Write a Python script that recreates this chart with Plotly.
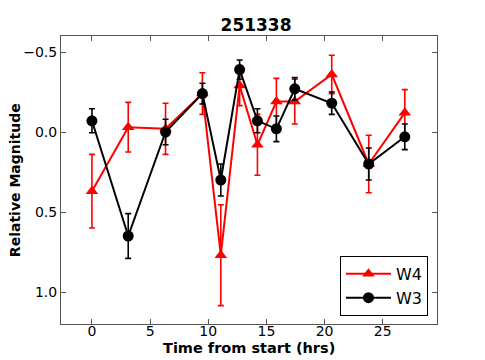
import plotly.graph_objects as go

# temps depuis le début (heures)
temps = [0.0, 3.12, 6.33, 9.5, 11.08, 12.7, 14.23, 15.86, 17.44, 20.62, 23.8, 26.9]

mag_w4 = [0.37, -0.03, -0.02, -0.24, 0.77, -0.29, 0.08, -0.19, -0.19, -0.36, 0.20, -0.12]
err_w4 = [0.23, 0.155, 0.16, 0.13, 0.315, 0.125, 0.19, 0.145, 0.14, 0.12, 0.18, 0.145]

mag_w3 = [-0.07, 0.65, 0.00, -0.24, 0.30, -0.39, -0.07, -0.02, -0.27, -0.18, 0.20, 0.03]
err_w3 = [0.075, 0.14, 0.08, 0.065, 0.10, 0.06, 0.075, 0.08, 0.07, 0.07, 0.10, 0.08]

police = "DejaVu Sans"

fig = go.Figure()
fig.add_trace(go.Scatter(
    x=temps, y=mag_w4, name="W4", mode="lines+markers",
    line=dict(color="#ff0000", width=2),
    marker=dict(symbol="triangle-up", size=11, color="#ff0000"),
    error_y=dict(type="data", array=err_w4, color="#ff0000", thickness=1.6, width=3),
))
fig.add_trace(go.Scatter(
    x=temps, y=mag_w3, name="W3", mode="lines+markers",
    line=dict(color="black", width=2),
    marker=dict(symbol="circle", size=11, color="black"),
    error_y=dict(type="data", array=err_w3, color="black", thickness=1.6, width=3),
))

axe = dict(showgrid=False, zeroline=False, showline=True, linecolor="#555555", linewidth=1,
           mirror="ticks", ticks="inside", ticklen=5, tickcolor="#555555", automargin=False,
           tickfont=dict(family=police, size=14, color="black"))

# la page html a une marge de 8px autour du graphique
fig.update_layout(
    width=477, height=352,
    margin=dict(l=53, r=48, t=28, b=36),
    paper_bgcolor="white", plot_bgcolor="white",
    font=dict(family=police, color="black"),
    title=dict(text="<b>251338</b>", x=0.52, xanchor="center", y=0.952, yanchor="middle",
               font=dict(size=17, family=police)),
    xaxis=dict(axe, range=[-2.66, 29.67], tickvals=[0, 5, 10, 15, 20, 25], ticklabelstandoff=-6),
    yaxis=dict(axe, range=[1.2, -0.6], tickvals=[-0.5, 0.0, 0.5, 1.0],
               ticktext=["\u22120.5", "0.0", "0.5", "1.0"]),
    legend=dict(x=0.976, y=0.028, xanchor="right", yanchor="bottom",
                bordercolor="black", borderwidth=1, bgcolor="white",
                font=dict(size=16, family=police), itemwidth=45),
    showlegend=True,
    annotations=[
        dict(text="<b>Time from start (hrs)</b>", xref="paper", yref="paper",
             x=0.5, y=-0.083, xanchor="center", yanchor="middle", showarrow=False,
             font=dict(size=14.5, family=police)),
        dict(text="<b>Relative Magnitude</b>", xref="paper", yref="paper",
             x=-0.122, y=0.5, xanchor="center", yanchor="middle", showarrow=False,
             textangle=-90, font=dict(size=14, family=police)),
    ],
)

fig.write_html("out.html")
